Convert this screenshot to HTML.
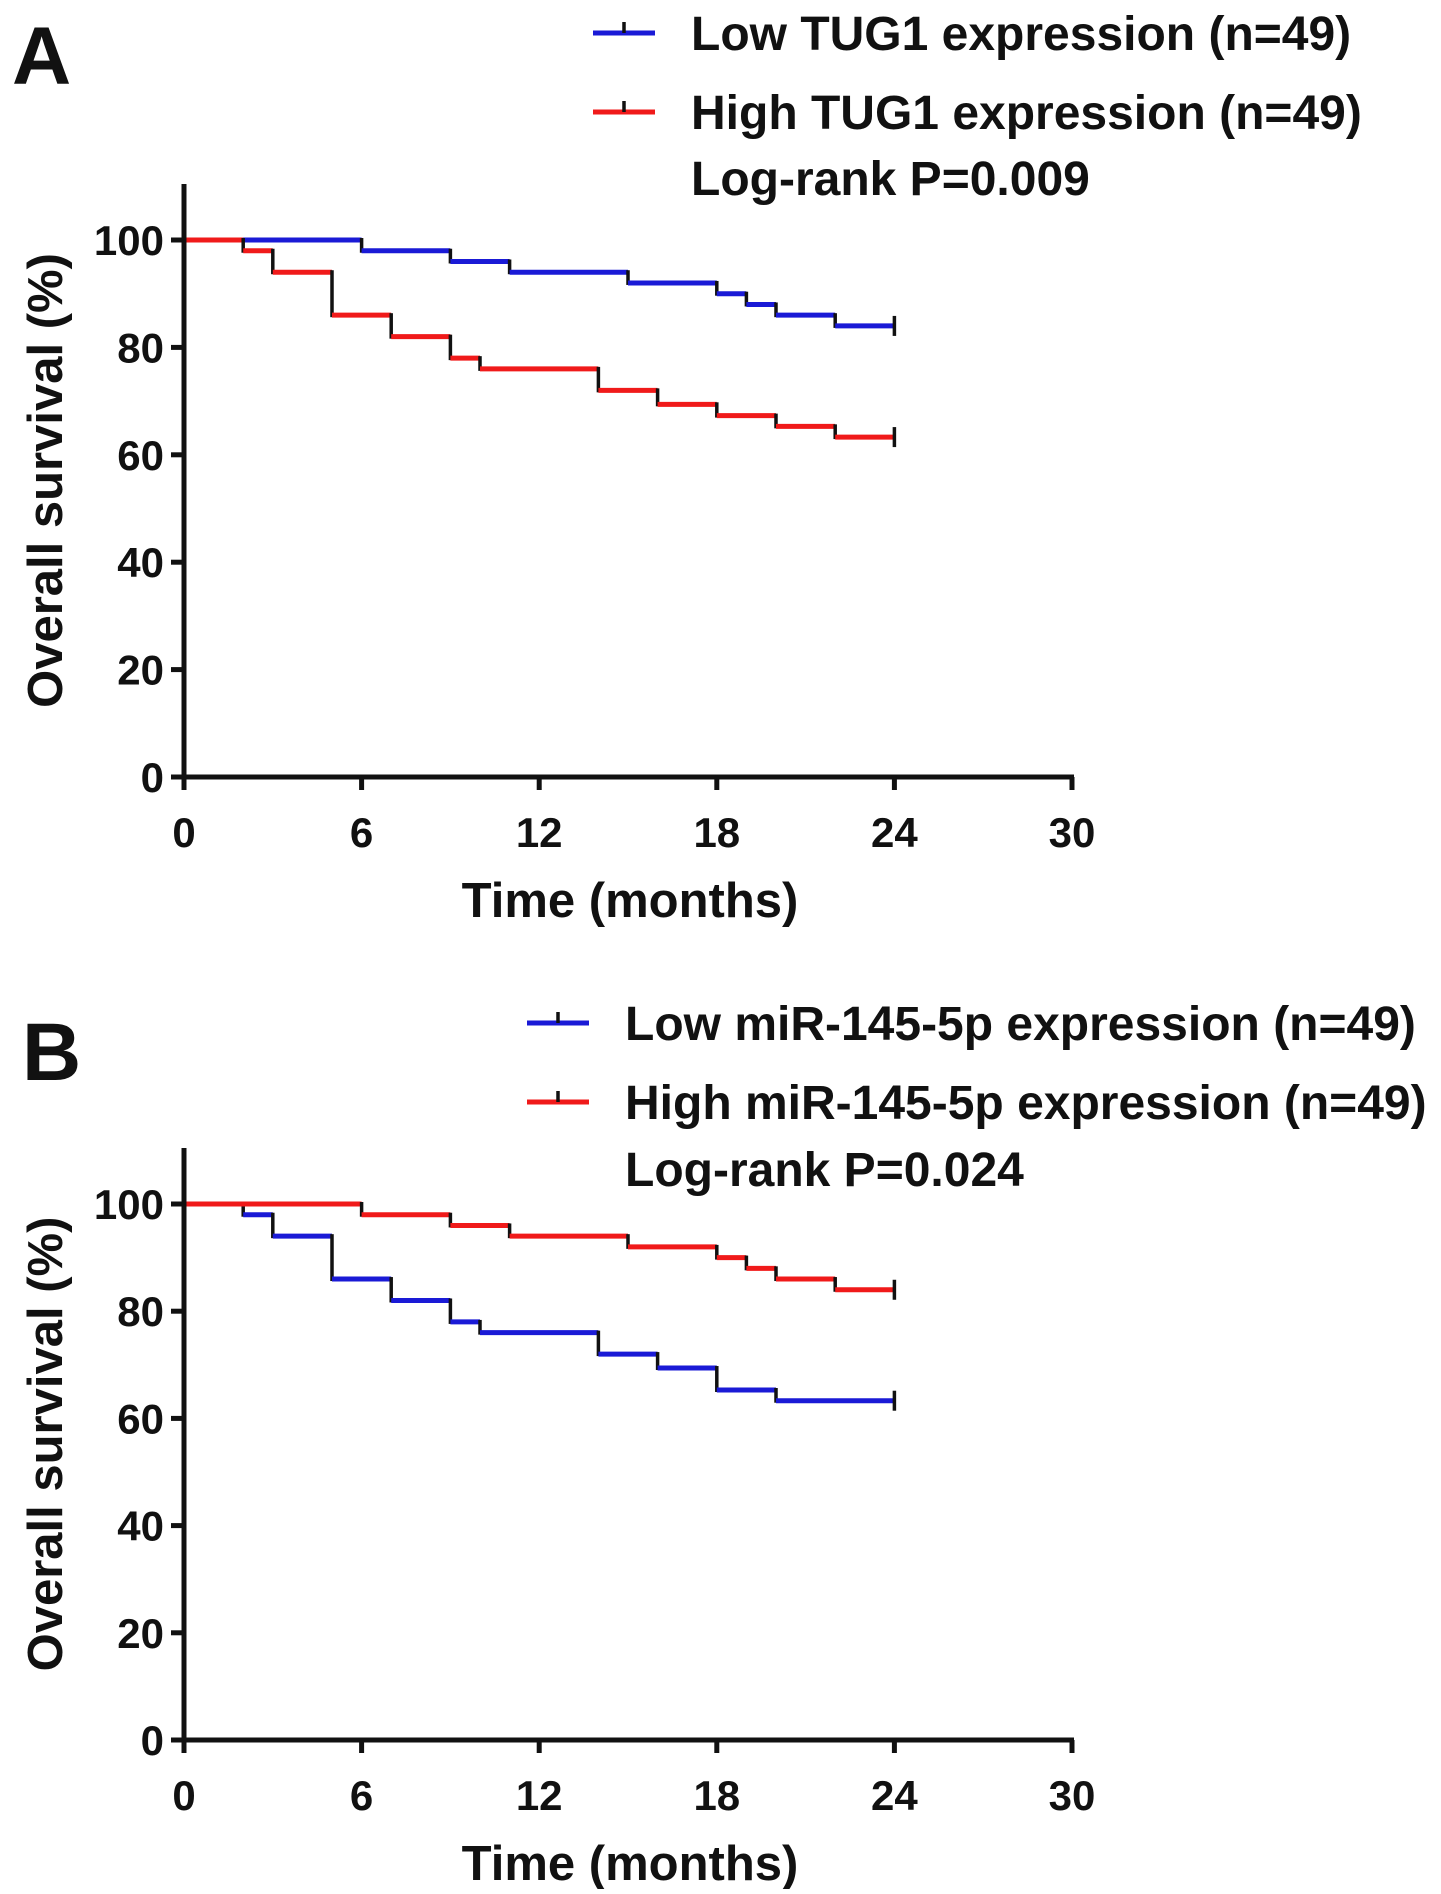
<!DOCTYPE html>
<html><head><meta charset="utf-8"><style>
body{margin:0;background:#fff}
svg text{font-family:"Liberation Sans",Arial,sans-serif;font-weight:bold;fill:#111}
</style></head><body>
<svg id="svg" width="1441" height="1889" viewBox="0 0 1441 1889"></svg>
<script>
const xTicks=[0,6,12,18,24,30];
const yTicks=[0,20,40,60,80,100];
const aLowT=[0,6,9,11,15,18,19,20,22,24];
const aLowS=[100,98,96,94,92,90,88,86,84,84];
const aHighT=[0,2,3,5,7,9,10,14,16,18,20,22,24];
const aHighS=[100,98,94,86,82,78,76,72,69.4,67.3,65.3,63.3,63.3];
const bHighT=[0,6,9,11,15,18,19,20,22,24];
const bHighS=[100,98,96,94,92,90,88,86,84,84];
const bLowT=[0,2,3,5,7,9,10,14,16,18,20,24];
const bLowS=[100,98,94,86,82,78,76,72,69.4,65.3,63.3,63.3];
const NS="http://www.w3.org/2000/svg";
const svg=document.getElementById('svg');
function mk(tag,attrs,parent){const e=document.createElementNS(NS,tag);for(const k in attrs)e.setAttribute(k,attrs[k]);(parent||svg).appendChild(e);return e;}
function panel(p){
 const g=mk('g',{});
 
 
 const X0=184,X1=1072,Y100=p.y100,Y0=p.y0;
 const sx=t=>X0+(X1-X0)*t/30, sy=s=>Y0+(Y100-Y0)*s/100;
 const L=mk('text',{x:p.lx,y:p.ly,'font-size':82},g);L.textContent=p.letter;
 
 
 p.series.forEach((s,si)=>{
  const sg=mk('g',{},g);
  
  
  for(let i=0;i<s.t.length-1;i++){
   mk('line',{x1:sx(s.t[i]),x2:sx(s.t[i+1]),y1:sy(s.s[i]),y2:sy(s.s[i]),stroke:s.c,'stroke-width':5},sg);
   if(i+1<s.t.length-1||s.s[i+1]!==s.s[i]) mk('line',{x1:sx(s.t[i+1]),x2:sx(s.t[i+1]),y1:sy(s.s[i])-2,y2:sy(s.s[i+1])+2,stroke:'#111','stroke-width':3.5},sg);
  }
  const last=s.t.length-1;
  mk('line',{x1:sx(s.t[last]),x2:sx(s.t[last]),y1:sy(s.s[last])-10,y2:sy(s.s[last])+10,stroke:'#111','stroke-width':3.5},sg);
  const ly=p.legY[si];
  const le=mk('g',{},g);
  
  
  mk('line',{x1:p.legX,x2:p.legX+62,y1:ly,y2:ly,stroke:s.c,'stroke-width':5},le);
  mk('line',{x1:p.legX+31,x2:p.legX+31,y1:ly-11,y2:ly,stroke:'#111','stroke-width':3.5},le);
  const t=mk('text',{x:p.legX+98,y:ly+17,'font-size':48},le);t.textContent=s.label;
 });
 const pv=mk('text',{x:p.legX+98,y:p.pY,'font-size':48},g);pv.textContent=p.pval;
 
 
 const ax=mk('g',{},g);
 
 
 mk('line',{x1:X0,x2:X0,y1:p.top,y2:Y0+2,stroke:'#111','stroke-width':5},ax);
 mk('line',{x1:X0-2,x2:X1+2,y1:Y0,y2:Y0,stroke:'#111','stroke-width':5},ax);
 xTicks.forEach(v=>{mk('line',{x1:sx(v),x2:sx(v),y1:Y0,y2:Y0+13,stroke:'#111','stroke-width':5},ax);
  const t=mk('text',{x:sx(v),y:Y0+70,'font-size':42,'text-anchor':'middle'},ax);t.textContent=v;});
 yTicks.forEach(v=>{mk('line',{x1:X0-13,x2:X0,y1:sy(v),y2:sy(v),stroke:'#111','stroke-width':5},ax);
  const t=mk('text',{x:164,y:sy(v)+15,'font-size':42,'text-anchor':'end'},ax);t.textContent=v;});
 const xt=mk('text',{x:630,y:Y0+140,'font-size':49,'text-anchor':'middle'},g);xt.textContent='Time (months)';
 
 
 const cy=(p.top+Y0)/2;
 const yt=mk('text',{x:0,y:0,'font-size':49,'text-anchor':'middle',transform:`translate(62,${cy}) rotate(-90)`},g);yt.textContent='Overall survival (%)';
 
 
}
panel({name:'panel-a',letter:'A',lx:12,ly:84,y100:240,y0:777,top:184,legX:593,legY:[33,112],pY:195,pval:'Log-rank P=0.009',
 series:[{name:'low-tug1-curve',t:aLowT,s:aLowS,c:'#1a1ad6',label:'Low TUG1 expression (n=49)'},
         {name:'high-tug1-curve',t:aHighT,s:aHighS,c:'#f01a1a',label:'High TUG1 expression (n=49)'}]});
panel({name:'panel-b',letter:'B',lx:22,ly:1080,y100:1204,y0:1740,top:1148,legX:527,legY:[1023,1102],pY:1186,pval:'Log-rank P=0.024',
 series:[{name:'low-mir145-curve',t:bLowT,s:bLowS,c:'#1a1ad6',label:'Low miR-145-5p expression (n=49)'},
         {name:'high-mir145-curve',t:bHighT,s:bHighS,c:'#f01a1a',label:'High miR-145-5p expression (n=49)'}]});
</script>
</body></html>
